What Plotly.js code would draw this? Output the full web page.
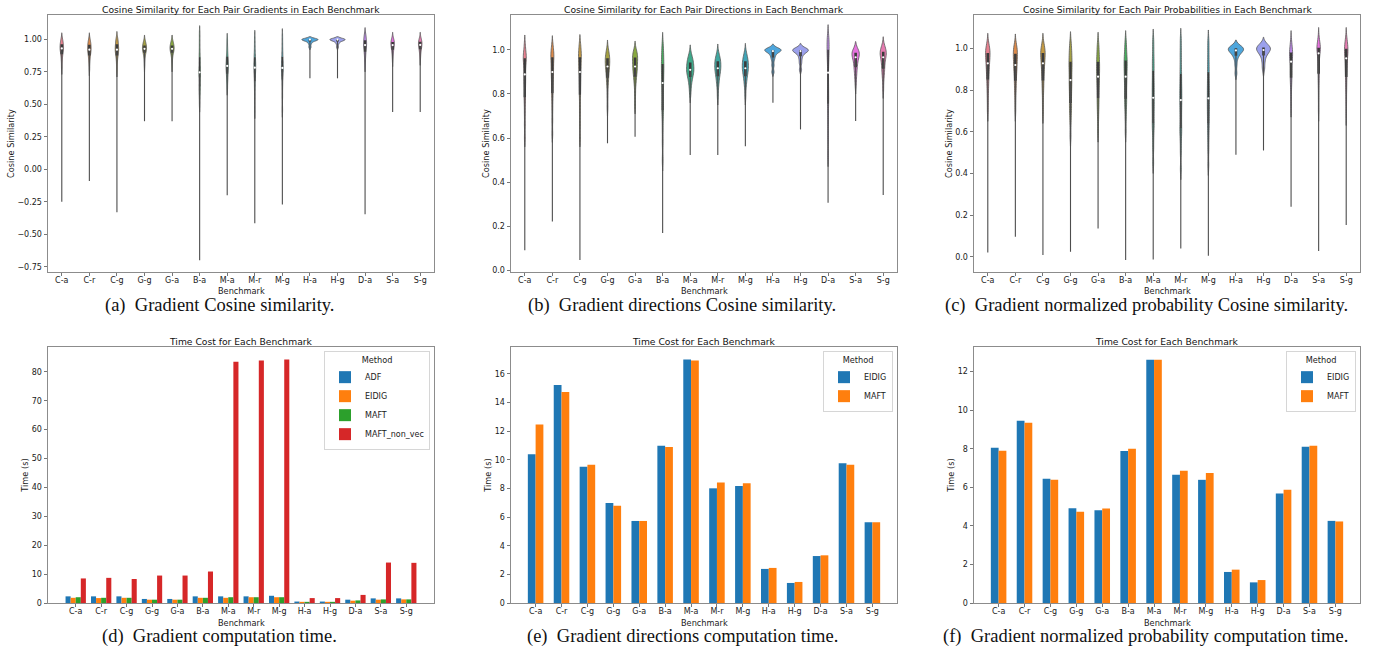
<!DOCTYPE html>
<html>
<head>
<meta charset="utf-8">
<script src="https://cdn.plot.ly/plotly-3.0.1.min.js"></script>
<style>html,body{margin:0;padding:0;background:#fff;}#chart{width:1374px;height:646px;}</style>
</head>
<body>
<div id="chart"></div>
<script>
// ---------- DATA ----------
const benchmarks = ['C-a','C-r','C-g','G-g','G-a','B-a','M-a','M-r','M-g','H-a','H-g','D-a','S-a','S-g'];

// (a) gradient cosine similarity: representative samples of the body, and lowest value of the tail
const gradientSamples = [
  [0.78,0.83,0.86,0.88,0.90,0.91,0.92,0.93,0.935,0.945,0.955,0.965,0.975,0.99,1.0],
  [0.77,0.82,0.85,0.87,0.89,0.90,0.91,0.92,0.93,0.94,0.95,0.96,0.97,0.985,1.0],
  [0.76,0.81,0.85,0.87,0.89,0.90,0.91,0.92,0.93,0.94,0.95,0.965,0.98,0.995,1.01],
  [0.80,0.85,0.875,0.895,0.905,0.915,0.92,0.927,0.933,0.94,0.945,0.955,0.965,0.975,0.983],
  [0.80,0.85,0.88,0.895,0.905,0.915,0.92,0.927,0.933,0.94,0.948,0.955,0.965,0.975,0.983],
  [0.50,0.56,0.60,0.63,0.66,0.70,0.73,0.746,0.77,0.80,0.84,0.87,0.92,0.98,1.045],
  [0.62,0.67,0.70,0.73,0.75,0.77,0.785,0.795,0.81,0.83,0.85,0.87,0.90,0.94,0.996],
  [0.45,0.55,0.62,0.67,0.71,0.74,0.76,0.782,0.80,0.82,0.84,0.87,0.90,0.95,1.009],
  [0.46,0.56,0.63,0.68,0.72,0.745,0.765,0.78,0.80,0.82,0.845,0.87,0.91,0.96,1.022],
  [0.94,0.965,0.98,0.99,0.995,0.998,1.0,1.0,1.0,1.0,1.0],
  [0.94,0.965,0.98,0.99,0.995,0.998,1.0,1.0,1.0,1.0,1.0],
  [0.80,0.85,0.88,0.90,0.92,0.935,0.945,0.956,0.965,0.975,0.985,0.995,1.01,1.025,1.04],
  [0.84,0.88,0.90,0.915,0.93,0.94,0.95,0.956,0.962,0.968,0.975,0.982,0.99,0.997,1.004],
  [0.85,0.885,0.905,0.92,0.932,0.942,0.95,0.957,0.963,0.97,0.976,0.983,0.99,0.997,1.004]
];
const gradientTailMin = [-0.25,-0.09,-0.33,0.37,0.37,-0.70,-0.20,-0.415,-0.27,0.70,0.70,-0.345,0.44,0.44];

// (b) gradient directions cosine similarity
const directionSamples = [
  [0.60,0.66,0.71,0.75,0.78,0.80,0.83,0.85,0.87,0.889,0.91,0.93,0.945,0.955,0.965,0.975,0.985,1.0,1.028],
  [0.62,0.68,0.73,0.77,0.80,0.82,0.845,0.865,0.885,0.90,0.915,0.93,0.945,0.96,0.97,0.98,0.99,1.005,1.025],
  [0.60,0.66,0.71,0.75,0.79,0.815,0.84,0.86,0.88,0.90,0.915,0.93,0.945,0.96,0.97,0.98,0.995,1.01,1.03],
  [0.74,0.79,0.83,0.855,0.87,0.885,0.90,0.91,0.918,0.925,0.935,0.945,0.95,0.955,0.965,0.972,0.98,0.99,1.005],
  [0.75,0.80,0.84,0.86,0.875,0.89,0.90,0.91,0.918,0.925,0.935,0.945,0.952,0.96,0.968,0.975,0.982,0.99,1.0],
  [0.50,0.58,0.64,0.69,0.72,0.745,0.77,0.80,0.825,0.85,0.87,0.89,0.91,0.925,0.94,0.96,0.98,1.0,1.03],
  [0.80,0.83,0.85,0.865,0.875,0.885,0.892,0.90,0.905,0.91,0.915,0.922,0.93,0.938,0.945,0.95,0.958,0.968,0.983],
  [0.79,0.83,0.85,0.865,0.878,0.888,0.897,0.905,0.911,0.917,0.923,0.93,0.937,0.944,0.95,0.956,0.963,0.972,0.987],
  [0.79,0.83,0.85,0.865,0.878,0.888,0.897,0.905,0.911,0.917,0.923,0.93,0.937,0.944,0.95,0.957,0.965,0.975,0.99],
  [0.90,0.93,0.955,0.97,0.98,0.99,0.995,1.0,1.0,1.0,1.0,1.003,1.007],
  [0.91,0.94,0.96,0.975,0.985,0.99,0.995,1.0,1.0,1.0,1.0,1.005,1.01],
  [0.52,0.60,0.66,0.71,0.75,0.775,0.80,0.83,0.86,0.897,0.93,0.955,0.975,0.99,1.005,1.02,1.035,1.05,1.065],
  [0.84,0.87,0.89,0.905,0.918,0.93,0.94,0.948,0.958,0.967,0.972,0.977,0.981,0.985,0.988,0.991,0.994,0.996,0.998],
  [0.82,0.86,0.885,0.90,0.912,0.925,0.938,0.948,0.958,0.967,0.973,0.978,0.983,0.988,0.993,0.998,1.003,1.01,1.02]
];
const directionTailMin = [0.09,0.22,0.045,0.576,0.606,0.168,0.523,0.523,0.562,0.76,0.639,0.306,0.677,0.341];

// (c) gradient normalized probability cosine similarity
const probabilitySamples = [
  [0.70,0.75,0.79,0.82,0.845,0.865,0.885,0.90,0.915,0.928,0.94,0.952,0.962,0.972,0.98,0.988,0.996,1.008,1.022],
  [0.70,0.75,0.79,0.815,0.84,0.86,0.88,0.895,0.91,0.92,0.932,0.945,0.957,0.967,0.977,0.986,0.995,1.006,1.019],
  [0.69,0.74,0.785,0.815,0.84,0.862,0.882,0.90,0.915,0.928,0.94,0.952,0.962,0.972,0.98,0.988,0.996,1.008,1.022],
  [0.58,0.64,0.68,0.71,0.73,0.76,0.785,0.81,0.83,0.848,0.87,0.89,0.91,0.925,0.94,0.96,0.98,1.0,1.03],
  [0.60,0.66,0.70,0.73,0.755,0.78,0.805,0.825,0.845,0.864,0.88,0.895,0.91,0.925,0.94,0.958,0.977,1.0,1.027],
  [0.60,0.66,0.70,0.73,0.752,0.775,0.80,0.825,0.845,0.864,0.882,0.90,0.915,0.93,0.945,0.96,0.98,1.005,1.035],
  [0.45,0.52,0.57,0.61,0.635,0.66,0.69,0.715,0.74,0.763,0.79,0.815,0.84,0.87,0.90,0.93,0.96,1.0,1.042],
  [0.42,0.50,0.55,0.59,0.61,0.64,0.67,0.70,0.727,0.752,0.775,0.80,0.825,0.855,0.885,0.92,0.96,1.0,1.046],
  [0.44,0.51,0.56,0.60,0.632,0.66,0.688,0.713,0.737,0.76,0.785,0.81,0.835,0.864,0.893,0.925,0.96,1.0,1.038],
  [0.88,0.92,0.95,0.965,0.975,0.983,0.988,0.992,0.995,0.998,1.0,1.003,1.007,1.01],
  [0.90,0.93,0.955,0.97,0.98,0.987,0.992,0.996,1.0,1.003,1.007,1.012,1.019],
  [0.72,0.77,0.81,0.835,0.855,0.87,0.885,0.90,0.918,0.936,0.948,0.958,0.967,0.975,0.982,0.99,1.0,1.015,1.035],
  [0.70,0.76,0.81,0.845,0.872,0.895,0.915,0.935,0.955,0.976,0.985,0.992,0.997,1.0,1.004,1.01,1.02,1.033,1.05],
  [0.68,0.74,0.79,0.825,0.856,0.88,0.90,0.918,0.935,0.952,0.965,0.975,0.985,0.993,1.0,1.008,1.018,1.032,1.05]
];
const probabilityTailMin = [0.02,0.096,0.008,0.024,0.136,-0.016,-0.013,0.04,0.005,0.49,0.51,0.24,0.028,0.152];

// (d) gradient computation time (s)
const gradTimeADF        = [2.3,2.3,2.3,1.4,1.4,2.3,2.3,2.3,2.5,0.5,0.5,1.15,1.6,1.6];
const gradTimeEIDIG      = [1.8,1.7,1.8,1.15,1.15,1.8,1.8,2.0,2.0,0.4,0.4,0.8,1.15,1.25];
const gradTimeMAFT       = [2.0,1.8,1.8,1.15,1.15,1.8,2.0,2.0,2.0,0.4,0.4,0.9,1.25,1.25];
const gradTimeMAFTnonvec = [8.5,8.7,8.3,9.5,9.5,10.9,83.5,83.9,84.3,1.7,1.7,2.8,14.0,13.9];

// (e) gradient directions computation time (s)
const dirTimeEIDIG = [10.39,15.23,9.52,6.99,5.73,10.99,17.0,8.01,8.17,2.38,1.40,3.28,9.76,5.64];
const dirTimeMAFT  = [12.46,14.74,9.66,6.80,5.73,10.90,16.93,8.41,8.36,2.45,1.47,3.33,9.66,5.64];

// (f) gradient normalized probability computation time (s)
const probTimeEIDIG = [8.05,9.45,6.44,4.92,4.81,7.88,12.62,6.65,6.39,1.61,1.07,5.68,8.10,4.26];
const probTimeMAFT  = [7.90,9.35,6.39,4.73,4.90,8.00,12.62,6.86,6.75,1.73,1.19,5.87,8.16,4.23];

// ---------- STYLE ----------
const violinColors = ['#e7808f','#dc8a4a','#c49a43','#a4a043','#88a840','#44ad5c','#3ea98a','#3fa7a0','#40a4b6','#4ea6dc','#9ba0ec','#bd88e8','#e672dd','#e67bb0'];
const gradientWidths    = [0.17,0.17,0.17,0.2,0.2,0.08,0.12,0.09,0.09,0.8,0.75,0.15,0.17,0.17];
const directionWidths   = [0.15,0.15,0.14,0.22,0.25,0.12,0.36,0.3,0.3,0.8,0.77,0.1,0.36,0.3];
const probabilityWidths = [0.22,0.2,0.22,0.15,0.15,0.15,0.1,0.1,0.1,0.75,0.68,0.15,0.17,0.17];
const widthScale = 0.74;
const gradientBw    = [0.025,0.025,0.025,0.025,0.025,0.03,0.025,0.03,0.03,0.01,0.01,0.025,0.025,0.025];
const directionBw   = [0.02,0.02,0.02,0.02,0.02,0.025,0.02,0.02,0.02,0.01,0.01,0.025,0.02,0.02];
const probabilityBw = [0.025,0.025,0.025,0.025,0.025,0.025,0.025,0.025,0.025,0.015,0.017,0.025,0.025,0.025];
const tab10 = ['#1f77b4','#ff7f0e','#2ca02c','#d62728'];

const W = 1374, H = 646;
const cols = [[48,434],[511,897],[974,1360]];
const rows = [[15,272],[347,603]];
const FONT = 'DejaVu Sans, Verdana, sans-serif';
const SERIF = 'Liberation Serif, DejaVu Serif, serif';

function median(arr){const s=[...arr].sort((a,b)=>a-b);const n=s.length;return n%2?s[(n-1)/2]:(s[n/2-1]+s[n/2])/2;}

const traces = [];
function addViolins(samplesList, tailMins, widths, bws, ax){
  const xa = ax===1?'x':'x'+ax, ya = ax===1?'y':'y'+ax;
  const tx=[], ty=[], mx=[], my=[];
  samplesList.forEach((s,i)=>{const m=median(s);tx.push(benchmarks[i],benchmarks[i],null);ty.push(tailMins[i],m,null);mx.push(benchmarks[i]);my.push(m);});
  traces.push({type:'scatter',mode:'lines',x:tx,y:ty,xaxis:xa,yaxis:ya,line:{color:'#4d4d4d',width:1.1},showlegend:false,hoverinfo:'skip'});
  samplesList.forEach((s,i)=>{
    const w = widths[i]*widthScale;
    const pxw = w*27.6;
    traces.push({type:'violin',name:benchmarks[i],x:s.map(()=>benchmarks[i]),y:s,xaxis:xa,yaxis:ya,
      width:w,bandwidth:bws[i],spanmode:'soft',scalemode:'width',points:false,
      fillcolor:violinColors[i],line:{color:'#5a5a5a',width:0.8},
      box:{visible:true,width:Math.min(0.75,2.6/pxw),fillcolor:'#3b3b3b',line:{color:'#3b3b3b',width:0}},
      meanline:{visible:false},showlegend:false,hoverinfo:'skip'});
  });
  traces.push({type:'scatter',mode:'markers',x:mx,y:my,xaxis:xa,yaxis:ya,marker:{color:'#ffffff',size:2.2},showlegend:false,hoverinfo:'skip'});
}
addViolins(gradientSamples,gradientTailMin,gradientWidths,gradientBw,1);
addViolins(directionSamples,directionTailMin,directionWidths,directionBw,2);
addViolins(probabilitySamples,probabilityTailMin,probabilityWidths,probabilityBw,3);

function addBar(vals,name,color,ax,legend,offset,width){
  traces.push({type:'bar',name:name,x:benchmarks,y:vals,xaxis:'x'+ax,yaxis:'y'+ax,legend:legend,
    offset:offset,width:width,marker:{color:color,line:{width:0}},hoverinfo:'skip'});
}
addBar(gradTimeADF,'ADF',tab10[0],4,'legend',-0.4,0.2);
addBar(gradTimeEIDIG,'EIDIG',tab10[1],4,'legend',-0.2,0.2);
addBar(gradTimeMAFT,'MAFT',tab10[2],4,'legend',0,0.2);
addBar(gradTimeMAFTnonvec,'MAFT_non_vec',tab10[3],4,'legend',0.2,0.2);
addBar(dirTimeEIDIG,'EIDIG',tab10[0],5,'legend2',-0.3,0.3);
addBar(dirTimeMAFT,'MAFT',tab10[1],5,'legend2',0,0.3);
addBar(probTimeEIDIG,'EIDIG',tab10[0],6,'legend3',-0.3,0.3);
addBar(probTimeMAFT,'MAFT',tab10[1],6,'legend3',0,0.3);

const layout = {width:W,height:H,margin:{l:0,r:0,t:0,b:0},paper_bgcolor:'#fff',plot_bgcolor:'#fff',
  barmode:'overlay',violinmode:'overlay',hovermode:false,font:{family:FONT,size:8,color:'#1a1a1a'},annotations:[]};

const yConf = [
  {range:[-0.79,1.187],tickvals:[-0.75,-0.5,-0.25,0,0.25,0.5,0.75,1.0],tickformat:'.2f',title:'Cosine Similarity'},
  {range:[-0.009,1.159],tickvals:[0,0.2,0.4,0.6,0.8,1.0],tickformat:'.1f',title:'Cosine Similarity'},
  {range:[-0.073,1.16],tickvals:[0,0.2,0.4,0.6,0.8,1.0],tickformat:'.1f',title:'Cosine Similarity'},
  {range:[0,88.6],tickvals:[0,10,20,30,40,50,60,70,80],tickformat:'d',title:'Time (s)'},
  {range:[0,17.88],tickvals:[0,2,4,6,8,10,12,14,16],tickformat:'d',title:'Time (s)'},
  {range:[0,13.28],tickvals:[0,2,4,6,8,10,12],tickformat:'d',title:'Time (s)'}
];
const xRanges = [[-0.5,13.5],[-0.5,13.5],[-0.5,13.5],[-1.09,14.09],[-0.95,13.95],[-0.95,13.95]];
const titles = ['Cosine Similarity for Each Pair Gradients in Each Benchmark','Cosine Similarity for Each Pair Directions in Each Benchmark','Cosine Similarity for Each Pair Probabilities in Each Benchmark','Time Cost for Each Benchmark','Time Cost for Each Benchmark','Time Cost for Each Benchmark'];
const captions = ['(a)\u2002Gradient Cosine similarity.','(b)\u2002Gradient directions Cosine similarity.','(c)\u2002Gradient normalized probability Cosine similarity.','(d)\u2002Gradient computation time.','(e)\u2002Gradient directions computation time.','(f)\u2002Gradient normalized probability computation time.'];
const captionX = [219,682,1146,219,682,1145];
const captionY = [306,306,306,636,636,636];
const xTitleY = [291,291,291,622.5,622.5,622.5];

for(let k=0;k<6;k++){
  const c = cols[k%3], r = rows[Math.floor(k/3)];
  const sx = k===0?'':String(k+1);
  const axBase = {showline:true,mirror:true,linecolor:'#8c8c8c',linewidth:1,ticks:'outside',ticklen:2.5,tickwidth:0.8,tickcolor:'#555',
    showgrid:false,zeroline:false,automargin:false,tickfont:{size:8,family:FONT,color:'#1a1a1a'}};
  layout['xaxis'+sx] = Object.assign({},axBase,{domain:[c[0]/W,c[1]/W],anchor:'y'+sx,type:'category',categoryarray:benchmarks,categoryorder:'array',
    range:xRanges[k],ticklabelstandoff:-2});
  layout['yaxis'+sx] = Object.assign({},axBase,{domain:[1-r[1]/H,1-r[0]/H],anchor:'x'+sx,range:yConf[k].range,tickmode:'array',ticklen:3.5,
    tickvals:yConf[k].tickvals,tickformat:yConf[k].tickformat,title:{text:yConf[k].title,font:{size:8.2,family:FONT},standoff:1}});
  // x-axis title
  layout.annotations.push({text:'Benchmark',xref:'paper',yref:'paper',x:(c[0]+c[1])/2/W,y:1-xTitleY[k]/H,xanchor:'center',yanchor:'middle',
    showarrow:false,font:{size:8.2,family:FONT,color:'#1a1a1a'}});
  layout.annotations.push({text:titles[k],xref:'paper',yref:'paper',x:(c[0]+c[1])/2/W,y:1-(r[0]-5.5)/H,xanchor:'center',yanchor:'middle',
    showarrow:false,font:{size:9.2,family:FONT,color:'#111'}});
  layout.annotations.push({text:captions[k],xref:'paper',yref:'paper',x:captionX[k]/W,y:1-captionY[k]/H,xanchor:'center',yanchor:'middle',
    showarrow:false,font:{size:18.5,family:SERIF,color:'#111'}});
}
const legBase = {bgcolor:'rgba(255,255,255,0.85)',bordercolor:'#d6d6d6',borderwidth:1,font:{size:8,family:FONT},
  title:{text:'Method',side:'top center',font:{size:8.2,family:FONT}},xanchor:'right',yanchor:'top',tracegroupgap:0,itemwidth:30};
layout.legend  = Object.assign({},legBase,{x:430/W,y:1-351/H});
layout.legend2 = Object.assign({},legBase,{x:893/W,y:1-351/H});
layout.legend3 = Object.assign({},legBase,{x:1356/W,y:1-351/H});

Plotly.newPlot('chart',traces,layout,{displayModeBar:false,staticPlot:true});
</script>
</body>
</html>
